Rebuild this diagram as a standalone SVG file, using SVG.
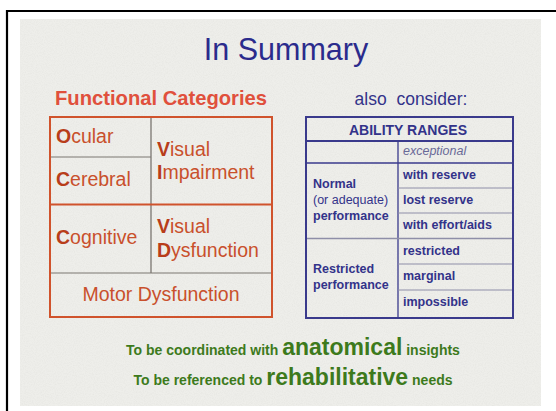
<svg xmlns="http://www.w3.org/2000/svg" width="556" height="411" viewBox="0 0 556 411">
<style>
text{font-family:"Liberation Sans",Arial,sans-serif}
.red{fill:#c9502c;font-size:19.5px}
.redb{fill:#b83d1a;font-weight:bold}
.navy{fill:#33338a;font-size:12.5px}
.b{font-weight:bold}
.grn{fill:#3d7a1c;font-size:14px;font-weight:bold}
.big{font-size:23px}
.rl{stroke:#d0532c;fill:none}
.gl{stroke:#7a7670;fill:none}
.nl{stroke:#3a3a8c;fill:none}
.ngl{stroke:#8e8ea8;fill:none}
</style>
<defs>
<filter id="noise" x="0" y="0" width="100%" height="100%">
<feTurbulence type="fractalNoise" baseFrequency="0.9" numOctaves="2" seed="3" result="t"/>
<feColorMatrix type="matrix" values="0 0 0 0 0.6  0 0 0 0 0.6  0 0 0 0 0.57  0 0 0 1.2 -0.45"/>
</filter>
</defs>
<rect x="0" y="0" width="556" height="411" fill="#ffffff"/>
<path d="M7,411 V11 H556" fill="none" stroke="#000" stroke-width="2.2"/>
<g id="background">
<rect x="20" y="19" width="521" height="387" fill="#eeeeea"/>
<rect x="20" y="19" width="521" height="387" filter="url(#noise)" opacity="0.3"/>
</g>
<g id="title">
<text x="286" y="60" text-anchor="middle" fill="#2b2b8c" font-size="30.5">In Summary</text>
</g>
<g id="functional-categories">
<text x="55" y="105" fill="#e0503c" font-size="20.2" font-weight="bold">Functional Categories</text>
<rect class="rl" x="50" y="117" width="222" height="200" stroke-width="2"/>
<path class="gl" d="M151,118 V273" stroke-width="1.3"/>
<path class="gl" d="M51,157 H151" stroke-width="1"/>
<path class="rl" d="M51,204.5 H271" stroke-width="1.8"/>
<path class="gl" d="M51,273 H271" stroke-width="1"/>
<g id="ocular"><text class="red" x="56" y="143"><tspan class="redb">O</tspan>cular</text></g>
<g id="cerebral"><text class="red" x="56" y="186"><tspan class="redb">C</tspan>erebral</text></g>
<g id="visual-impairment"><text class="red" x="157" y="156"><tspan class="redb">V</tspan>isual</text><text class="red" x="157" y="179"><tspan class="redb">I</tspan>mpairment</text></g>
<g id="cognitive"><text class="red" x="56" y="244"><tspan class="redb">C</tspan>ognitive</text></g>
<g id="visual-dysfunction"><text class="red" x="157" y="233"><tspan class="redb">V</tspan>isual</text><text class="red" x="157" y="257"><tspan class="redb">D</tspan>ysfunction</text></g>
<g id="motor"><text class="red" x="161" y="301" text-anchor="middle">Motor Dysfunction</text></g>
</g>
<g id="ability-ranges">
<text x="411" y="105" text-anchor="middle" fill="#33338a" font-size="17.5" xml:space="preserve">also  consider:</text>
<rect class="nl" x="306" y="117" width="207" height="201" stroke-width="2"/>
<path class="nl" d="M307,141 H512" stroke-width="2"/>
<path class="nl" d="M398,141 V317" stroke-width="1.3"/>
<path class="nl" d="M307,163 H512" stroke-width="1.6"/>
<path class="ngl" d="M398,188 H512 M398,213 H512 M398,264 H512 M398,290 H512" stroke-width="1"/>
<path class="ngl" d="M307,238.5 H512" stroke-width="1.3"/>
<text x="408" y="135" text-anchor="middle" fill="#33338a" font-size="14" font-weight="bold">ABILITY RANGES</text>
<text x="403" y="155" fill="#6a6a98" font-size="12.5" font-style="italic">exceptional</text>
<g id="normal"><text class="navy b" x="313" y="188">Normal</text><text class="navy" x="313" y="204">(or adequate)</text><text class="navy b" x="313" y="220">performance</text></g>
<g id="restricted"><text class="navy b" x="313" y="273">Restricted</text><text class="navy b" x="313" y="289">performance</text></g>
<text class="navy b" x="403" y="179">with reserve</text>
<text class="navy b" x="403" y="204">lost reserve</text>
<text class="navy b" x="403" y="229">with effort/aids</text>
<text class="navy b" x="403" y="255">restricted</text>
<text class="navy b" x="403" y="280">marginal</text>
<text class="navy b" x="403" y="306">impossible</text>
</g>
<g id="footer">
<text class="grn" x="293" y="355" text-anchor="middle">To be coordinated with <tspan class="big">anatomical</tspan> insights</text>
<text class="grn" x="293" y="385" text-anchor="middle">To be referenced to <tspan class="big">rehabilitative</tspan> needs</text>
</g>
</svg>
